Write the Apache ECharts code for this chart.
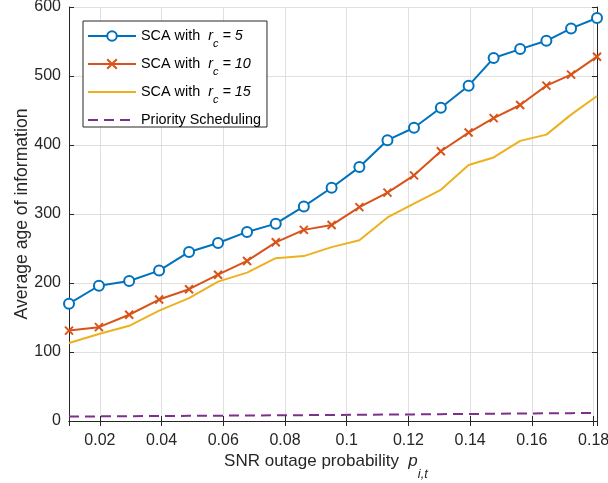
<!DOCTYPE html>
<html>
<head>
<meta charset="utf-8">
<script src="https://cdn.jsdelivr.net/npm/echarts@6.0.0/dist/echarts.min.js"></script>
<style>
  html, body { margin: 0; padding: 0; background: #fff; }
</style>
</head>
<body>
<div id="main" style="width: 608px; height: 483px"></div>
<script>
// outage probability values (x)
var pOut = [0.0100, 0.0197, 0.0295, 0.0392, 0.0489, 0.0583, 0.0677, 0.0770, 0.0861, 0.0951,
  0.1041, 0.1132, 0.1218, 0.1305, 0.1395, 0.1476, 0.1562, 0.1647, 0.1727, 0.1811];
var sca5 = [170, 196, 203, 218, 245, 258, 274, 286, 311, 338, 368, 407, 425, 454, 486, 526, 539, 551, 569, 584];
var sca10 = [131, 136, 154, 176, 191, 212, 232, 259, 277, 284, 310, 331, 356, 391, 418, 439, 458, 486, 502, 528];
var sca15 = [113, 126, 138, 160, 178, 202, 215, 236, 239, 252, 262, 295, 315, 335, 371, 382, 406, 415, 444, 471];
var priority = [6.5, 6.7, 7.0, 7.2, 7.5, 7.7, 8.0, 8.2, 8.5, 8.7, 9.0, 9.3, 9.6, 9.9, 10.2, 10.5, 10.8, 11.1, 11.4, 11.8];
var seriesNames = ["SCA with r_c = 5", "SCA with r_c = 10", "SCA with r_c = 15", "Priority Scheduling"];
var rcValues = ["5", "10", "15"];

var axisColor = "#262626";
var gridColor = "#dfdfdf";
var font = "Liberation Sans, Arial, Helvetica, sans-serif";

function pairs(ys) {
  return ys.map(function (y, i) { return [pOut[i], y]; });
}

var chartDom = document.getElementById("main");
var myChart = echarts.init(chartDom, null, { renderer: "canvas" });

var legendRich = {
  t: { fontSize: 14.4, fontFamily: font, color: "#000" },
  i: { fontSize: 14.4, fontFamily: font, fontStyle: "italic", color: "#000" },
  s: { fontSize: 11, fontFamily: font, fontStyle: "italic", color: "#000", padding: [15, 0, 0, 0] }
};

var axisBase = {
  type: "value",
  axisLine: { show: true, lineStyle: { color: axisColor, width: 1 } },
  axisTick: { show: true, inside: true, length: 5, lineStyle: { color: axisColor } }
};

var option = {
  animation: false,
  backgroundColor: "#fff",
  textStyle: { fontFamily: font },
  grid: { left: 69, right: 11, top: 7, bottom: 62, outerBoundsMode: "none", containLabel: false },
  legend: {
    orient: "vertical",
    left: 83,
    top: 21,
    padding: [8, 6, 0, 4],
    itemGap: 8,
    itemWidth: 48,
    itemHeight: 12,
    backgroundColor: "#fff",
    borderColor: axisColor,
    borderWidth: 1,
    data: [
      { name: seriesNames[0] },
      { name: seriesNames[1] },
      { name: seriesNames[2], itemStyle: { opacity: 0 } },
      { name: seriesNames[3], itemStyle: { opacity: 0 } }
    ],
    textStyle: { rich: legendRich, fontSize: 14.4, color: "#000" },
    formatter: function (name) {
      var k = seriesNames.indexOf(name);
      if (k < 3) {
        return "{t|SCA with  }{i|r}{s|c}{i| = " + rcValues[k] + "}";
      }
      return "{t|Priority Scheduling}";
    }
  },
  xAxis: [
    Object.assign({}, axisBase, {
      min: 0.01,
      max: 0.1811,
      splitNumber: 8,
      position: "bottom",
      axisLabel: {
        color: axisColor, fontSize: 16, fontFamily: font, margin: 12,
        showMinLabel: false, showMaxLabel: false
      },
      splitLine: { show: true, lineStyle: { color: gridColor, width: 1 } },
      name: "{t|SNR outage probability  }{i|p}{s|i,t}",
      nameLocation: "middle",
      nameGap: 20,
      nameMoveOverlap: false,
      nameTextStyle: {
        padding: [0, 14, 0, 0],
        rich: {
          t: { fontSize: 17, fontFamily: font, color: axisColor },
          i: { fontSize: 17, fontFamily: font, fontStyle: "italic", color: axisColor },
          s: { fontSize: 13, fontFamily: font, fontStyle: "italic", color: axisColor, padding: [27, 0, 0, 0] }
        }
      }
    }),
    Object.assign({}, axisBase, {
      min: 0.01,
      max: 0.1811,
      splitNumber: 8,
      position: "top",
      axisLabel: { show: false },
      splitLine: { show: false }
    })
  ],
  yAxis: [
    Object.assign({}, axisBase, {
      min: 0,
      max: 600,
      interval: 100,
      position: "left",
      axisLabel: { color: axisColor, fontSize: 16, fontFamily: font, margin: 8 },
      splitLine: { show: true, lineStyle: { color: gridColor, width: 1 } },
      name: "Average age of information",
      nameLocation: "middle",
      nameGap: 38,
      nameMoveOverlap: false,
      nameTextStyle: { fontSize: 17.6, fontFamily: font, color: axisColor }
    }),
    Object.assign({}, axisBase, {
      min: 0,
      max: 600,
      interval: 100,
      position: "right",
      axisLabel: { show: false },
      splitLine: { show: false }
    })
  ],
  series: [
    {
      name: seriesNames[0],
      type: "line",
      data: pairs(sca5),
      symbol: "emptyCircle",
      symbolSize: 10,
      showAllSymbol: true,
      lineStyle: { color: "#0072BD", width: 2 },
      itemStyle: { color: "#0072BD", borderWidth: 2 },
      z: 4
    },
    {
      name: seriesNames[1],
      type: "line",
      data: pairs(sca10),
      symbol: "path://M0,0L10,10M10,0L0,10",
      symbolSize: 8,
      showAllSymbol: true,
      lineStyle: { color: "#D95319", width: 2 },
      itemStyle: { color: "#D95319", borderColor: "#D95319", borderWidth: 2 },
      z: 3
    },
    {
      name: seriesNames[2],
      type: "line",
      data: pairs(sca15),
      symbol: "none",
      lineStyle: { color: "#EDB120", width: 2 },
      itemStyle: { color: "#EDB120" },
      z: 2
    },
    {
      name: seriesNames[3],
      type: "line",
      data: pairs(priority),
      symbol: "none",
      lineStyle: { color: "#7E2F8E", width: 2, type: [10, 6] },
      itemStyle: { color: "#7E2F8E" },
      z: 2
    }
  ]
};

myChart.setOption(option);
</script>
</body>
</html>
